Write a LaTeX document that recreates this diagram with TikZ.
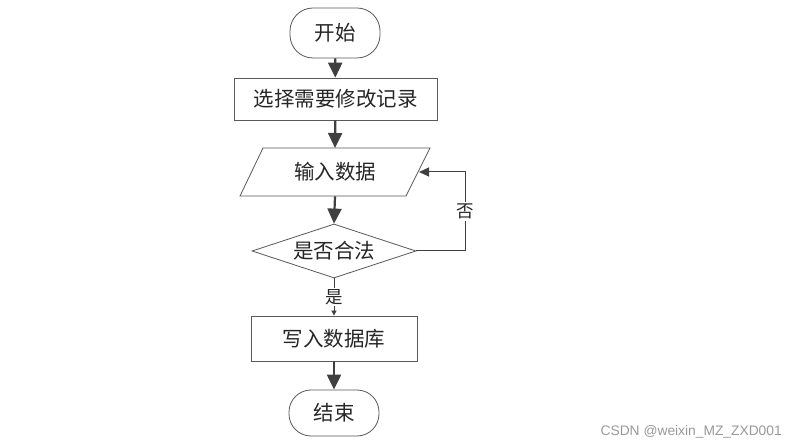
\documentclass[tikz,border=0pt]{standalone}
\usepackage{fontspec}
\newfontfamily\cjk{Noto Sans CJK SC}
\newfontfamily\wmfont{Liberation Sans}
\usetikzlibrary{shapes.geometric,arrows.meta}
\tikzset{
  shp/.style={draw=black!65, line width=0.8pt, inner sep=0pt, align=center,
    font=\cjk\fontsize{20.5}{20.5}\selectfont, text=black!85},
  term/.style={shp, rounded corners=23pt},
  procbox/.style={shp, rectangle},
  lbl/.style={font=\cjk\fontsize{17.5}{17.5}\selectfont, text=black!85, fill=white, inner sep=1.5pt},
  arr/.style={draw=black!75, line width=2.2pt, -{Triangle[length=15pt,width=14pt]}},
  thinarr/.style={draw=black!75, line width=1pt, -{Triangle[length=10pt,width=9pt]}},
  tinyarr/.style={draw=black!75, line width=0.8pt, -{Triangle[length=5pt,width=5pt]}},
}
\begin{document}
\begin{tikzpicture}[x=1pt,y=-1pt]
\useasboundingbox[fill=white] (0,0) rectangle (790,446);
\node[term, minimum width=90pt, minimum height=50pt] (start) at (335,33) {开始};
\node[procbox, minimum width=203pt, minimum height=42pt] (sel) at (335.5,99) {选择需要修改记录};
% parallelogram
\node[shp, draw=none, minimum width=150pt, minimum height=48pt] (in) at (335,172) {输入数据};
\draw[black!65, line width=0.8pt] (263,148) -- (430,148) -- (406,196) -- (240,196) -- cycle;
\coordinate (inR) at (419,172);
\node[shp, diamond, aspect=3, minimum width=164pt, minimum height=54pt] (dec) at (334,251) {是否合法};
\node[procbox, minimum width=166pt, minimum height=45pt] (wr) at (334,338.5) {写入数据库};
\node[term, minimum width=90pt, minimum height=46pt, rounded corners=22pt] (end) at (334,413) {结束};
\coordinate (loopA) at (465,251);
\coordinate (loopB) at (465,172);
\draw[arr] (start) -- (sel);
\draw[arr] (sel) -- (335,148);
\draw[arr] (in.south) -- (dec.north);
\draw[thinarr] (dec.east) -- (loopA) -- node[lbl, pos=0.5]{否} (loopB) -- (inR);
\draw[tinyarr] (dec.south) -- node[lbl, pos=0.5]{是} (wr.north);
\draw[arr] (wr) -- (end);
\node[font=\wmfont\fontsize{13.8}{13.8}\selectfont, text=black!40, anchor=east, inner sep=0pt] (wm) at (782,432) {CSDN @weixin\_MZ\_ZXD001};
\end{tikzpicture}
\end{document}
